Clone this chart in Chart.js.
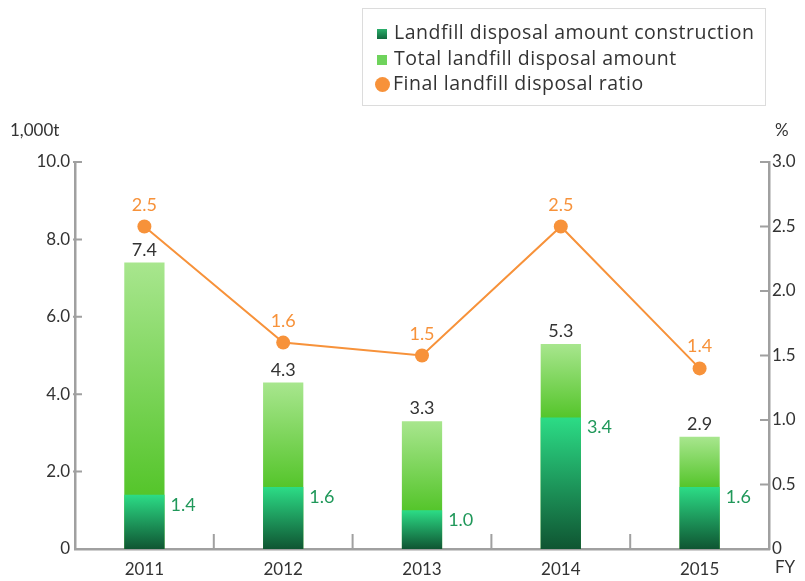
<!DOCTYPE html>
<html>
<head>
<meta charset="utf-8">
<script src="https://cdn.jsdelivr.net/npm/chart.js@4.4.1/dist/chart.umd.min.js"></script>
<style>
	html, body { margin: 0; padding: 0; background: #fff; }
	#wrap { position: relative; width: 805px; height: 581px; }
	#legend {
		position: absolute; left: 362px; top: 8px; width: 404px; height: 98px;
		border: 1.5px solid #dcdcdc; box-sizing: border-box;
		font-family: "Open Sans", sans-serif; font-size: 19.5px; letter-spacing: 0.5px; color: #333;
		padding: 10px 0 0 14px;
	}
	#legend div { height: 25.5px; line-height: 25px; white-space: nowrap; }
	#legend span.sw { display: inline-block; width: 10px; height: 10px; margin-right: 7px; vertical-align: 0px; }
	#legend span.dot { display: inline-block; width: 15px; height: 15px; border-radius: 50%; margin-right: 3px; margin-left: -2px; vertical-align: -2px; }
</style>
</head>
<body>
<div id="wrap">
	<canvas id="wasteChart" width="805" height="581"></canvas>
	<div id="legend"></div>
</div>
<script>
const years = ['2011', '2012', '2013', '2014', '2015'];
const constructionAmount = [1.4, 1.6, 1.0, 3.4, 1.6];
const totalAmount = [7.4, 4.3, 3.3, 5.3, 2.9];
const disposalRatio = [2.5, 1.6, 1.5, 2.5, 1.4];
const amountTicks = [0, 2, 4, 6, 8, 10];
const ratioTicks = [0, 0.5, 1, 1.5, 2, 2.5, 3];

const FONT = 'Lato, sans-serif';
const AXIS_GREY = '#a0a0a0';
const ORANGE = '#f7923a';
const LABEL_GREEN = '#20985a';

// per-bar vertical gradients
function gradientFor(ctx, topVal, bottomVal, c0, c1, fallback) {
	if (ctx.type !== 'data' || !ctx.chart.chartArea) return fallback;
	const y = ctx.chart.scales.y;
	const top = y.getPixelForValue(topVal);
	const bottom = y.getPixelForValue(bottomVal);
	if (!isFinite(top) || !isFinite(bottom)) return fallback;
	const g = ctx.chart.ctx.createLinearGradient(0, top, 0, bottom);
	g.addColorStop(0, c0);
	g.addColorStop(1, c1);
	return g;
}
function totalFill(ctx) {
	const i = ctx.dataIndex;
	return gradientFor(ctx, totalAmount[i], constructionAmount[i], '#a8e68e', '#55c52b', '#6dd35a');
}
function constructionFill(ctx) {
	const i = ctx.dataIndex;
	return gradientFor(ctx, constructionAmount[i], 0, '#2cdc86', '#0f5532', '#1a8a50');
}

// tick marks inside the plot, axis titles and value labels
const decorations = {
	id: 'decorations',
	afterDatasetsDraw(chart) {
		const c = chart.ctx;
		const { x, y, y1 } = chart.scales;
		const area = chart.chartArea;
		c.save();
		c.strokeStyle = AXIS_GREY;
		c.lineWidth = 2;
		c.beginPath();
		amountTicks.forEach(v => {
			const py = y.getPixelForValue(v);
			if (v === 0) return;
			c.moveTo(area.left - 2, py); c.lineTo(area.left + 7, py);
		});
		ratioTicks.forEach(v => {
			const py = y1.getPixelForValue(v);
			if (v === 0) return;
			c.moveTo(area.right - 9, py); c.lineTo(area.right, py);
		});
		for (let i = 1; i < years.length; i++) {
			const px = (x.getPixelForValue(i - 1) + x.getPixelForValue(i)) / 2;
			c.moveTo(px, area.bottom); c.lineTo(px, area.bottom - 15);
		}
		c.stroke();

		c.font = '17px ' + FONT;
		c.fillStyle = '#333';
		c.textBaseline = 'middle';
		c.textAlign = 'left';
		c.fillText('1,000t', 10, 131);
		c.fillText('%', 775, 131);
		c.fillText('FY', 775, 568);

		const barMeta = chart.getDatasetMeta(1);
		const consMeta = chart.getDatasetMeta(0);
		const lineMeta = chart.getDatasetMeta(2);
		c.font = '18px ' + FONT;
		c.textAlign = 'center';
		c.textBaseline = 'alphabetic';
		barMeta.data.forEach((bar, i) => {
			c.fillStyle = '#333';
			c.fillText(totalAmount[i].toFixed(1), bar.x, bar.y - 7);
		});
		c.textAlign = 'left';
		c.textBaseline = 'middle';
		consMeta.data.forEach((bar, i) => {
			c.fillStyle = LABEL_GREEN;
			c.fillText(constructionAmount[i].toFixed(1), bar.x + bar.width / 2 + 6, bar.y + 10);
		});
		c.textAlign = 'center';
		c.textBaseline = 'alphabetic';
		lineMeta.data.forEach((pt, i) => {
			c.fillStyle = ORANGE;
			c.fillText(disposalRatio[i].toFixed(1), pt.x, pt.y - 16);
		});
		c.restore();
	}
};

const chart = new Chart(document.getElementById('wasteChart'), {
	type: 'bar',
	data: {
		labels: years,
		datasets: [
			{
				label: 'Landfill disposal amount construction',
				data: constructionAmount,
				backgroundColor: constructionFill,
				barPercentage: 0.29,
				categoryPercentage: 1,
				yAxisID: 'y',
				order: 1
			},
			{
				label: 'Total landfill disposal amount',
				data: totalAmount,
				backgroundColor: totalFill,
				barPercentage: 0.29,
				categoryPercentage: 1,
				yAxisID: 'y',
				order: 2
			},
			{
				type: 'line',
				label: 'Final landfill disposal ratio',
				data: disposalRatio,
				borderColor: ORANGE,
				backgroundColor: ORANGE,
				borderWidth: 2,
				pointRadius: 7,
				pointBorderWidth: 0,
				tension: 0,
				yAxisID: 'y1',
				order: 0
			}
		]
	},
	options: {
		responsive: false,
		animation: false,
		layout: { padding: { top: 162, left: 0, right: 0, bottom: 0 } },
		plugins: {
			legend: { display: false },
			tooltip: { enabled: false }
		},
		scales: {
			x: {
				stacked: true,
				grid: { display: false, drawTicks: false },
				border: { color: AXIS_GREY, width: 2.5 },
				ticks: { color: '#333', font: { family: FONT, size: 17 }, padding: 10 },
				afterFit(scale) { scale.height = 32; }
			},
			y: {
				position: 'left',
				min: 0,
				max: 10,
				afterBuildTicks(scale) { scale.ticks = amountTicks.map(v => ({ value: v })); },
				grid: { display: false, drawTicks: false },
				border: { color: AXIS_GREY, width: 2.5 },
				ticks: {
					color: '#333',
					font: { family: FONT, size: 17 },
					padding: 5,
					callback: v => v === 0 ? '0' : v.toFixed(1)
				},
				afterFit(scale) { scale.width = 75; }
			},
			y1: {
				position: 'right',
				min: 0,
				max: 3,
				afterBuildTicks(scale) { scale.ticks = ratioTicks.map(v => ({ value: v })); },
				grid: { display: false, drawTicks: false },
				border: { color: AXIS_GREY, width: 2.5 },
				ticks: {
					color: '#333',
					font: { family: FONT, size: 17 },
					padding: 3,
					callback: v => v === 0 ? '0' : v.toFixed(1)
				},
				afterFit(scale) { scale.width = 36; }
			}
		}
	},
	plugins: [decorations]
});

// legend box built from the chart's datasets
const legendEl = document.getElementById('legend');
const swatches = ['background: linear-gradient(#2cb06c, #12683d);', 'background: #6fd35c;', null];
chart.data.datasets.forEach((ds, i) => {
	const row = document.createElement('div');
	const mark = document.createElement('span');
	if (swatches[i]) {
		mark.className = 'sw';
		mark.style.cssText = swatches[i];
	} else {
		mark.className = 'dot';
		mark.style.background = ORANGE;
	}
	row.appendChild(mark);
	row.appendChild(document.createTextNode(ds.label));
	legendEl.appendChild(row);
});
</script>
</body>
</html>
